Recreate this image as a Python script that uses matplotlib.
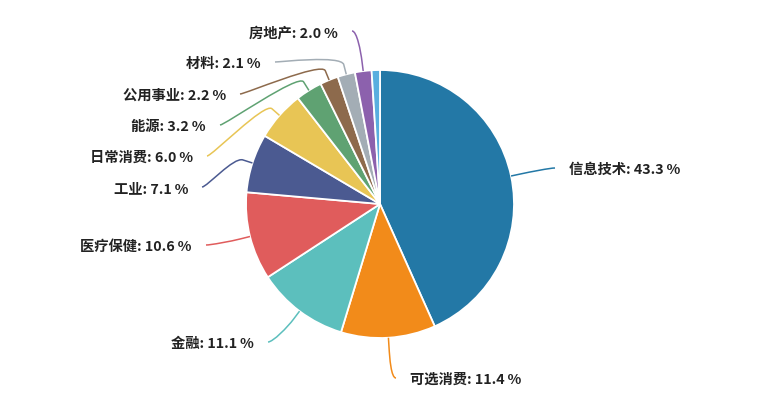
import numpy as np
import matplotlib.pyplot as plt
from matplotlib.path import Path
from matplotlib.patches import PathPatch

plt.rcParams['font.family'] = ['Noto Sans CJK SC', 'DejaVu Sans']

sectors = ['信息技术', '可选消费', '金融', '医疗保健', '工业', '日常消费',
           '能源', '公用事业', '材料', '房地产', '其他']
weights = [43.3, 11.4, 11.1, 10.6, 7.1, 6.0, 3.2, 2.2, 2.1, 2.0, 1.0]
colors = ['#2378a6', '#f28b1a', '#5cbfbd', '#e05c5c', '#4b5a91', '#e8c555',
          '#5fa272', '#8d6a4c', '#a3adb5', '#8c61ad', '#59aedf']

# where each label sits (image pixels, y from top); None = no label
label_pos = [(555, 170), (396, 380), (268, 344), (206, 247), (202, 189),
             (207, 158), (220, 127), (240, 96), (275, 64), (352, 33), None]

W, H = 767, 396
cx, cy, R = 380, 204, 134

fig = plt.figure(figsize=(W / 100, H / 100), dpi=100)
ax = fig.add_axes([0, 0, 1, 1])

wedges, _ = ax.pie(weights, colors=colors, startangle=90, counterclock=False,
                   center=(cx, H - cy), radius=R,
                   wedgeprops=dict(edgecolor='white', linewidth=1.3))
ax.set_xlim(0, W)
ax.set_ylim(0, H)
ax.set_aspect('equal')
ax.axis('off')

for w, name, val, col, pos in zip(wedges, sectors, weights, colors, label_pos):
    if pos is None:
        continue
    a = np.deg2rad((w.theta1 + w.theta2) / 2)
    touch = np.array([cx + R * np.cos(a), H - cy + R * np.sin(a)])
    brk = np.array([cx + (R + 10) * np.cos(a), H - cy + (R + 10) * np.sin(a)])
    lx, ly = pos
    p0 = np.array([lx, H - ly + 2])
    side = 1 if lx > cx else -1
    p1 = p0 + np.array([-side * 5, 0])
    p2 = 2 * brk - touch
    verts = [p0, p1, p2, brk, touch]
    codes = [Path.MOVETO, Path.CURVE4, Path.CURVE4, Path.CURVE4, Path.LINETO]
    ax.add_patch(PathPatch(Path(verts, codes), fc='none', ec=col, lw=1.1))
    ax.text(lx + side * 14, H - ly, f'{name}: {val:.1f}\u2009%',
            ha='left' if side > 0 else 'right', va='center',
            fontsize=10.3, fontweight='bold', color='#222222',
            family=['Noto Sans CJK SC', 'DejaVu Sans'])

fig.savefig('out.png', dpi=100)
